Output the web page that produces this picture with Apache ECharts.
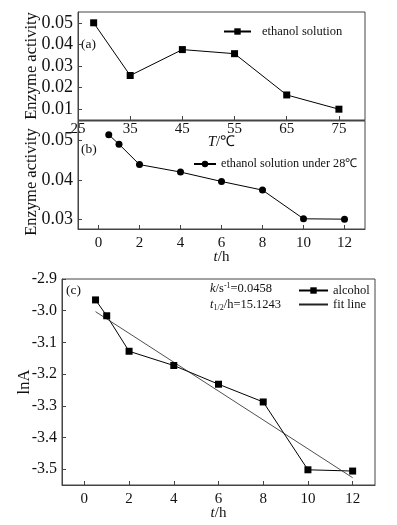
<!DOCTYPE html>
<html>
<head>
<meta charset="utf-8">
<script src="https://cdn.jsdelivr.net/npm/echarts@6/dist/echarts.min.js"></script>
<style>
  html, body { margin: 0; padding: 0; background: #fff; }
  #chart { width: 397px; height: 525px; }
</style>
</head>
<body>
<div id="chart"></div>
<script>
// panel (a): activity vs temperature
const tempA = [28, 35, 45, 55, 65, 75];
const actA = [0.0500, 0.0256, 0.0376, 0.0357, 0.0166, 0.0100];
const tempTicks = [25, 35, 45, 55, 65, 75];
const actTicksA = [0.01, 0.02, 0.03, 0.04, 0.05];

// panel (b): activity vs time at 28℃
const timeB = [0.5, 1, 2, 4, 6, 8, 10, 12];
const actB = [0.0515, 0.0491, 0.0439, 0.0420, 0.0396, 0.0374, 0.0301, 0.0300];
const actTicksB = [0.03, 0.04, 0.05];

// panel (c): lnA vs time with fit
const timeC = [0.5, 1, 2, 4, 6, 8, 10, 12];
const lnA = [-2.966, -3.016, -3.128, -3.173, -3.232, -3.288, -3.502, -3.506];
const fitT = [0.5, 12];
const fitY = [-3.003, -3.527];
const lnTicks = [-3.5, -3.4, -3.3, -3.2, -3.1, -3.0, -2.9];
const timeTicks = [0, 2, 4, 6, 8, 10, 12];

const FONT = "'Liberation Serif', 'Times New Roman', serif";
const AX = '#444';

const myChart = echarts.init(document.getElementById('chart'));

function xAx(gi, min, max, ticks, name, gap, margin) {
  return {
    type: 'value', gridIndex: gi, min: min, max: max,
    axisLine: { show: true, onZero: false, lineStyle: { color: AX, width: 1 } },
    axisTick: { show: true, inside: true, length: 4, customValues: ticks, lineStyle: { color: AX } },
    axisLabel: { customValues: ticks, margin: margin, color: '#111', fontFamily: FONT, fontSize: 15 },
    splitLine: { show: false },
    name: name, nameLocation: 'middle', nameGap: gap, nameMoveOverlap: false,
    nameTextStyle: {
      color: '#111', fontFamily: FONT, fontSize: 15,
      rich: { i: { fontStyle: 'italic', fontFamily: FONT, fontSize: 15, color: '#111' } }
    }
  };
}

function yAx(gi, min, max, ticks, digits, name, gap, fs, namePad) {
  return {
    type: 'value', gridIndex: gi, min: min, max: max,
    axisLine: { show: true, onZero: false, lineStyle: { color: AX, width: 1 } },
    axisTick: { show: true, inside: true, length: 4, customValues: ticks, lineStyle: { color: AX } },
    axisLabel: {
      customValues: ticks, margin: 5, color: '#111', fontFamily: FONT, fontSize: fs,
      formatter: function (v) { return Number(v).toFixed(digits); }
    },
    splitLine: { show: false },
    name: name, nameLocation: 'middle', nameGap: gap, nameMoveOverlap: false,
    nameTextStyle: { color: '#111', fontFamily: FONT, fontSize: 16.5, padding: namePad || 0 }
  };
}

function pairs(xs, ys) {
  return xs.map(function (x, i) { return [x, ys[i]]; });
}

const gridStyle = { show: true, borderColor: AX, borderWidth: 1, backgroundColor: 'transparent' };
const legendText = { fontFamily: FONT, fontSize: 12.5, color: '#111' };

const option = {
  animation: false,
  backgroundColor: '#fff',
  textStyle: { fontFamily: FONT },
  grid: [
    Object.assign({ left: 78, top: 12, width: 287, height: 108 }, gridStyle),
    Object.assign({ left: 78, top: 121, width: 287, height: 108 }, gridStyle),
    Object.assign({ left: 62, top: 279, width: 313, height: 206 }, gridStyle)
  ],
  xAxis: [
    xAx(0, 25, 80, tempTicks, '{i|T}/℃', 15, 2),
    xAx(1, -1, 13, timeTicks, '{i|t}/h', 21, 7),
    xAx(2, -1, 13, timeTicks, '{i|t}/h', 21, 7)
  ],
  yAxis: [
    yAx(0, 0.005, 0.055, actTicksA, 2, 'Enzyme activity', 38, 18),
    yAx(1, 0.0275, 0.055, actTicksB, 2, 'Enzyme activity', 38, 18, [0, 14, 0, 0]),
    yAx(2, -3.55, -2.9, lnTicks, 1, 'lnA', 29, 16)
  ],
  legend: [
    {
      left: 223, top: 25, padding: 0, itemWidth: 27, itemHeight: 8,
      data: ['ethanol solution'],
      textStyle: Object.assign({ padding: [0, 0, 0, 6] }, legendText)
    },
    {
      left: 193, top: 158, padding: 0, itemWidth: 22, itemHeight: 8, itemGap: 4,
      data: ['ethanol solution under 28℃'],
      textStyle: Object.assign({}, legendText, { fontSize: 12.2 })
    },
    {
      left: 298, top: 284, padding: 0, orient: 'vertical', itemWidth: 29, itemHeight: 8, itemGap: 1,
      data: [
        'alcohol',
        { name: 'fit line', itemStyle: { color: 'transparent', borderWidth: 0 } }
      ],
      textStyle: legendText
    }
  ],
  series: [
    {
      name: 'ethanol solution', type: 'line', xAxisIndex: 0, yAxisIndex: 0,
      data: pairs(tempA, actA), symbol: 'rect', symbolSize: 7,
      lineStyle: { color: '#000', width: 1 }, itemStyle: { color: '#000' }
    },
    {
      name: 'ethanol solution under 28℃', type: 'line', xAxisIndex: 1, yAxisIndex: 1,
      data: pairs(timeB, actB), symbol: 'circle', symbolSize: 7,
      lineStyle: { color: '#000', width: 1 }, itemStyle: { color: '#000' }
    },
    {
      name: 'alcohol', type: 'line', xAxisIndex: 2, yAxisIndex: 2,
      data: pairs(timeC, lnA), symbol: 'rect', symbolSize: 7,
      lineStyle: { color: '#000', width: 1 }, itemStyle: { color: '#000' }
    },
    {
      name: 'fit line', type: 'line', xAxisIndex: 2, yAxisIndex: 2,
      data: pairs(fitT, fitY), symbol: 'none',
      lineStyle: { color: '#222', width: 0.8 }, itemStyle: { color: '#222' }
    }
  ],
  graphic: [
    { type: 'text', left: 81, top: 37, style: { text: '(a)', font: '13.5px ' + FONT, fill: '#111' } },
    { type: 'text', left: 81, top: 142, style: { text: '(b)', font: '13.5px ' + FONT, fill: '#111' } },
    { type: 'text', left: 66, top: 283, style: { text: '(c)', font: '13.5px ' + FONT, fill: '#111' } },
    {
      type: 'text', left: 210, top: 282,
      style: {
        text: '{i|k}/s{sup|-1}=0.0458',
        font: '12.5px ' + FONT, fill: '#111',
        rich: {
          i: { fontStyle: 'italic', fontFamily: FONT, fontSize: 12.5, fill: '#111' },
          sup: { fontFamily: FONT, fontSize: 8, verticalAlign: 'top', padding: [0, 0, 6, 0], fill: '#111' }
        }
      }
    },
    {
      type: 'text', left: 210, top: 298,
      style: {
        text: '{i|t}{sub|1/2}/h=15.1243',
        font: '12.5px ' + FONT, fill: '#111',
        rich: {
          i: { fontStyle: 'italic', fontFamily: FONT, fontSize: 12.5, fill: '#111' },
          sub: { fontFamily: FONT, fontSize: 8, padding: [6, 0, 0, 0], fill: '#111' }
        }
      }
    }
  ]
};

myChart.setOption(option);
</script>
</body>
</html>
